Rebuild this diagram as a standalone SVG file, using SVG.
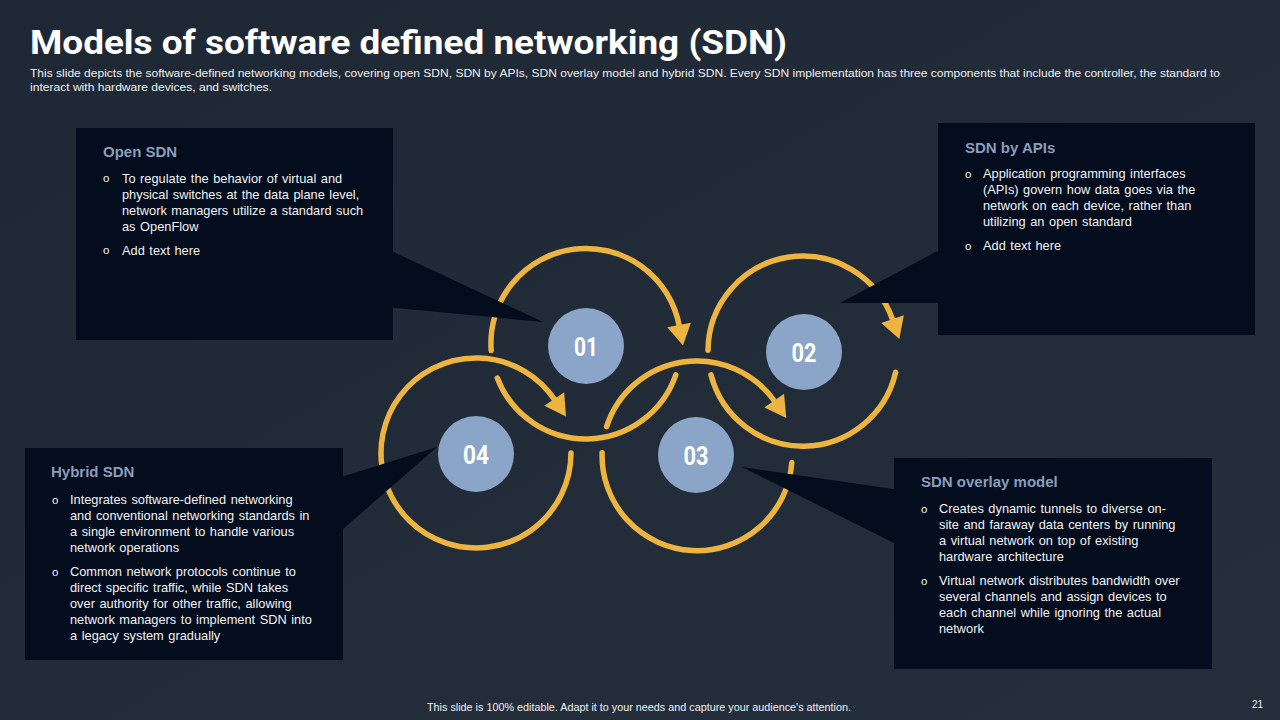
<svg xmlns="http://www.w3.org/2000/svg" width="1280" height="720" viewBox="0 0 1280 720">
  <defs>
    <linearGradient id="bg" x1="0" y1="0" x2="1" y2="1">
      <stop offset="0" stop-color="#1E2734"/>
      <stop offset="0.5" stop-color="#222B38"/>
      <stop offset="1" stop-color="#252E3B"/>
    </linearGradient>
    <marker id="arrow" markerUnits="userSpaceOnUse" markerWidth="26" markerHeight="28" viewBox="-3 -14 26 28" refX="0" refY="0" orient="auto">
      <path d="M-1,-12 L20,0 L-1,12 Z" fill="#EDB540"/>
    </marker>
    <style>
      .ring { fill: none; stroke: #EDB540; stroke-width: 5.5; stroke-linecap: round; }
      .box { fill: #030D1E; }
      .ptr { fill: #030D1E; }
      .bubble { fill: #8BA5C8; }
      .num { font-family: Roboto, "Liberation Sans", sans-serif; font-weight: 700; font-size: 25px; fill: #FFFFFF; text-anchor: middle; }
      .head { font-family: "Liberation Sans", Arial, sans-serif; font-weight: 700; font-size: 15px; fill: #8C9DBB; }
      .body { font-family: "Liberation Sans", Arial, sans-serif; font-size: 12.8px; word-spacing: 1px; fill: #F2F2F2; }
      .bul { font-family: "Liberation Sans", Arial, sans-serif; font-size: 11.5px; fill: #F2F2F2; }
      .title { font-family: Roboto, "Liberation Sans", sans-serif; font-weight: 700; font-size: 34px; fill: #FFFFFF; }
      .sub { font-family: "Liberation Sans", Arial, sans-serif; font-size: 11px; fill: #F0F0F0; }
      .foot { font-family: "Liberation Sans", Arial, sans-serif; font-size: 10px; fill: #F0F0F0; }
    </style>
  </defs>

  <rect x="0" y="0" width="1280" height="720" fill="url(#bg)"/>

  <g id="header">
    <text class="title" x="30" y="54" textLength="757" lengthAdjust="spacingAndGlyphs">Models of software defined networking (SDN)</text>
    <text class="sub" x="30" y="77" textLength="1190" lengthAdjust="spacingAndGlyphs">This slide depicts the software-defined networking models, covering open SDN, SDN by APIs, SDN overlay model and hybrid SDN. Every SDN implementation has three components that include the controller, the standard to</text>
    <text class="sub" x="30" y="91" textLength="242" lengthAdjust="spacingAndGlyphs">interact with hardware devices, and switches.</text>
  </g>

  <g id="rings">
    <!-- Ring 01 -->
    <path class="ring" d="M675.8,374.9 A95,95 0 0 1 497.3,378.0"/>
    <path class="ring" marker-end="url(#arrow)" d="M491.2,350.6 A95,95 0 0 1 679.3,325.9"/>
    <!-- Ring 02 -->
    <path class="ring" d="M895.6,372.4 A95,95 0 0 1 711.0,374.8"/>
    <path class="ring" marker-end="url(#arrow)" d="M708.0,350.2 A95,95 0 0 1 892.8,320.1"/>
    <!-- Ring 03 -->
    <path class="ring" d="M791.8,462.6 A95,95 0 0 1 602.1,452.7"/>
    <path class="ring" marker-end="url(#arrow)" d="M606.6,426.6 A95,95 0 0 1 774.8,401.5"/>
    <!-- Ring 04 -->
    <path class="ring" marker-end="url(#arrow)" d="M571,453 A95,95 0 1 1 554.8,399.9"/>
  </g>

  <g id="connectors">
    <polygon class="ptr" points="385,248 543,322 385,307"/>
    <polygon class="ptr" points="945,247 840,303 945,303"/>
    <polygon class="ptr" points="335,479 437,447 335,536"/>
    <polygon class="ptr" points="742,467 900,490 900,546"/>
  </g>

  <g id="node-01">
    <circle class="bubble" cx="586" cy="346" r="38"/>
    <text class="num" x="586" y="356" textLength="24" lengthAdjust="spacingAndGlyphs">01</text>
  </g>
  <g id="node-02">
    <circle class="bubble" cx="804" cy="352" r="38"/>
    <text class="num" x="804" y="362" textLength="25" lengthAdjust="spacingAndGlyphs">02</text>
  </g>
  <g id="node-03">
    <circle class="bubble" cx="696" cy="455" r="38"/>
    <text class="num" x="696" y="465" textLength="25" lengthAdjust="spacingAndGlyphs">03</text>
  </g>
  <g id="node-04">
    <circle class="bubble" cx="476" cy="454" r="38"/>
    <text class="num" x="476" y="464" textLength="26" lengthAdjust="spacingAndGlyphs">04</text>
  </g>

  <g id="box-open-sdn">
    <rect class="box" x="76" y="128" width="317" height="212"/>
    <text class="head" x="103" y="157">Open SDN</text>
    <text class="bul" x="103" y="182">o</text>
    <text class="body" x="122" y="183">To regulate the behavior of virtual and</text>
    <text class="body" x="122" y="199">physical switches at the data plane level,</text>
    <text class="body" x="122" y="215">network managers utilize a standard such</text>
    <text class="body" x="122" y="231">as OpenFlow</text>
    <text class="bul" x="103" y="254">o</text>
    <text class="body" x="122" y="255">Add text here</text>
  </g>

  <g id="box-sdn-apis">
    <rect class="box" x="938" y="123" width="317" height="212"/>
    <text class="head" x="965" y="153">SDN by APIs</text>
    <text class="bul" x="965" y="178">o</text>
    <text class="body" x="983" y="178">Application programming interfaces</text>
    <text class="body" x="983" y="194">(APIs) govern how data goes via the</text>
    <text class="body" x="983" y="210">network on each device, rather than</text>
    <text class="body" x="983" y="226">utilizing an open standard</text>
    <text class="bul" x="965" y="250">o</text>
    <text class="body" x="983" y="250">Add text here</text>
  </g>

  <g id="box-hybrid-sdn">
    <rect class="box" x="25" y="448" width="318" height="212"/>
    <text class="head" x="51" y="477">Hybrid SDN</text>
    <text class="bul" x="52" y="504">o</text>
    <text class="body" x="70" y="504">Integrates software-defined networking</text>
    <text class="body" x="70" y="520">and conventional networking standards in</text>
    <text class="body" x="70" y="536">a single environment to handle various</text>
    <text class="body" x="70" y="552">network operations</text>
    <text class="bul" x="52" y="576">o</text>
    <text class="body" x="70" y="576">Common network protocols continue to</text>
    <text class="body" x="70" y="592">direct specific traffic, while SDN takes</text>
    <text class="body" x="70" y="608">over authority for other traffic, allowing</text>
    <text class="body" x="70" y="624">network managers to implement SDN into</text>
    <text class="body" x="70" y="640">a legacy system gradually</text>
  </g>

  <g id="box-sdn-overlay">
    <rect class="box" x="894" y="458" width="318" height="211"/>
    <text class="head" x="921" y="487">SDN overlay model</text>
    <text class="bul" x="921" y="513">o</text>
    <text class="body" x="939" y="513">Creates dynamic tunnels to diverse on-</text>
    <text class="body" x="939" y="529">site and faraway data centers by running</text>
    <text class="body" x="939" y="545">a virtual network on top of existing</text>
    <text class="body" x="939" y="561">hardware architecture</text>
    <text class="bul" x="921" y="585">o</text>
    <text class="body" x="939" y="585">Virtual network distributes bandwidth over</text>
    <text class="body" x="939" y="601">several channels and assign devices to</text>
    <text class="body" x="939" y="617">each channel while ignoring the actual</text>
    <text class="body" x="939" y="633">network</text>
  </g>

  <g id="footer">
    <text class="foot" x="427" y="711" textLength="424" lengthAdjust="spacingAndGlyphs">This slide is 100% editable. Adapt it to your needs and capture your audience's attention.</text>
    <text class="foot" x="1252" y="708">21</text>
  </g>
</svg>
